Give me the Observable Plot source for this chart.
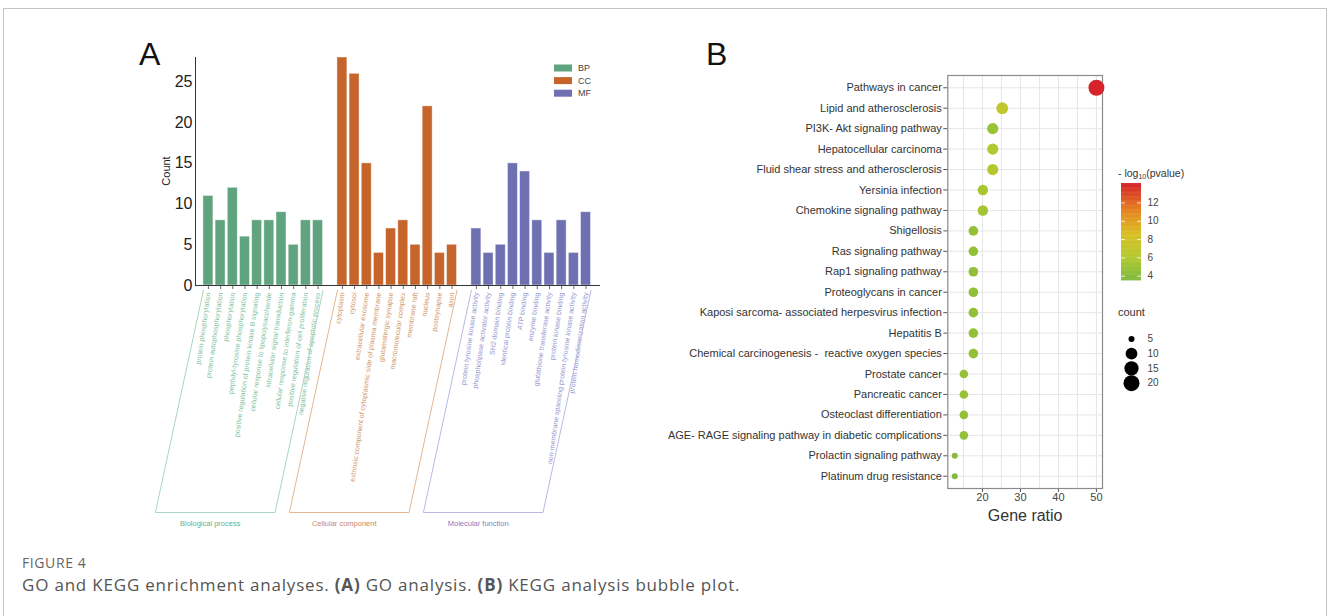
<!DOCTYPE html>
<html><head><meta charset="utf-8">
<script src="https://cdn.jsdelivr.net/npm/d3@7"></script>
<script src="https://cdn.jsdelivr.net/npm/@observablehq/plot@0.6"></script>
<style>
html,body{margin:0;padding:0;background:#fff;}
#fig{position:relative;width:1328px;height:616px;overflow:hidden;background:#fff;font-family:"Liberation Sans",Arial,sans-serif;}
.abs{position:absolute;}
#frame{position:absolute;left:3px;top:8px;width:1324px;height:700px;border:1.5px solid #c4c4c4;box-sizing:border-box;pointer-events:none;z-index:10;}
#overlay{position:absolute;left:0;top:0;z-index:5;pointer-events:none;}
</style></head>
<body>
<div id="fig">
  <div id="panelA" class="abs" style="left:0;top:0"></div>
  <div id="panelB" class="abs" style="left:660px;top:0"></div>
  <div id="cbar" class="abs" style="left:1121px;top:178.3px"></div>
  <div id="sizeLeg" class="abs" style="left:1121px;top:321px"></div>
  <svg id="overlay" width="1328" height="616"></svg>
  <div id="frame"></div>
</div>
<script>
// ---------------- DATA ----------------
const bpTerms = ["protein phosphorylation","protein autophosphorylation","phosphorylation","peptidyl-tyrosine phosphorylation","positive regulation of protein kinase B signaling","cellular response to lipopolysaccharide","intracellular signal transduction","cellular response to interferon-gamma","positive regulation of cell proliferation","negative regulation of apoptotic process"];
const bpCounts = [11,8,12,6,8,8,9,5,8,8];
const ccTerms = ["cytoplasm","cytosol","extracellular exosome","extrinsic component of cytoplasmic side of plasma membrane","glutamatergic synapse","macromolecular complex","membrane raft","nucleus","postsynapse","axon"];
const ccCounts = [28,26,15,4,7,8,5,22,4,5];
const mfTerms = ["protein tyrosine kinase activity","phospholipase activator activity","SH2 domain binding","identical protein binding","ATP binding","enzyme binding","glutathione transferase activity","protein kinase binding","non-membrane spanning protein tyrosine kinase activity","protein homodimerization activity"];
const mfCounts = [7,4,5,15,14,8,4,8,4,9];
const goGroups = ["BP","CC","MF"];
const goGroupNames = ["Biological process","Cellular component","Molecular function"];
const countTicksA = [0,5,10,15,20,25];

const keggPathways = ["Pathways in cancer","Lipid and atherosclerosis","PI3K- Akt signaling pathway","Hepatocellular carcinoma","Fluid shear stress and atherosclerosis","Yersinia infection","Chemokine signaling pathway","Shigellosis","Ras signaling pathway","Rap1 signaling pathway","Proteoglycans in cancer","Kaposi sarcoma- associated herpesvirus infection","Hepatitis B","Chemical carcinogenesis - \u00a0reactive oxygen species","Prostate cancer","Pancreatic cancer","Osteoclast differentiation","AGE- RAGE signaling pathway in diabetic complications","Prolactin signaling pathway","Platinum drug resistance"];
const keggRatio = [50,25.2,22.7,22.7,22.7,20.1,20.1,17.6,17.6,17.6,17.6,17.6,17.6,17.6,15.1,15.1,15.1,15.1,12.7,12.7];
const keggCount = [20,10,9,9,9,8,8,7,7,7,7,7,7,7,6,6,6,6,5,5];
const keggLogP = [14.0,6.9,4.9,6.0,6.3,5.6,5.3,4.6,4.6,4.5,4.5,4.5,4.6,4.6,4.8,4.8,4.6,4.6,4.0,3.9];
const ratioTicks = [20,30,40,50];
const ratioGrid = [15,20,25,30,35,40,45,50];
const colorTicks = [4,6,8,10,12];
const countTicksB = [5,10,15,20];

// ---------------- STYLE ----------------
const goColors = ["#5fa47f","#c6652b","#6e70b2"];
const goTextColors = ["#82bf9f","#d09669","#9596cf"];
const goLineColors = ["#a9d5c1","#e2b793","#babae2"];
const goLabelColors = ["#6aae8a","#c98a5c","#7f80c0"];
const fontFam = "'Liberation Sans', Arial, sans-serif";

// ---------------- PANEL A ----------------
const goData = [];
[[bpTerms,bpCounts],[ccTerms,ccCounts],[mfTerms,mfCounts]].forEach(([terms,counts],g)=>{
  terms.forEach((t,i)=>goData.push({group:g, term:t, count:counts[i], slot:g*(terms.length+1)+i}));
});
const BW = 0.82, SLANT = -3.94, YTOP = -0.6;
const xDomA = [-0.65, 32.6];
const yDomA = [-27.88, 28];
const brackets = goGroups.map((_,g)=>{
  const rows = goData.filter(d=>d.group===g);
  return {g, s:d3.min(rows,d=>d.slot), e:d3.max(rows,d=>d.slot)+BW};
});
const bracketPts = brackets.flatMap(b=>[
  {g:b.g,x:b.s,y:YTOP},{g:b.g,x:b.s+SLANT,y:yDomA[0]},
  {g:b.g,x:b.e+SLANT,y:yDomA[0]},{g:b.g,x:b.e,y:YTOP}]);

const chartA = Plot.plot({
  width:660, height:540,
  marginLeft:195, marginRight:60, marginTop:57, marginBottom:28,
  x:{domain:xDomA, axis:null},
  y:{domain:yDomA, axis:null},
  color:{type:"identity"},
  style:{background:"transparent", fontFamily:fontFam, overflow:"visible"},
  marks:[
    Plot.rect(goData,{x1:"slot", x2:d=>d.slot+BW, y1:0, y2:"count", fill:d=>goColors[d.group], stroke:"#ffffff", strokeOpacity:0.55, strokeWidth:0.8}),
    Plot.ruleX([xDomA[0]],{y1:0, y2:yDomA[1], stroke:"#333", strokeWidth:1}),
    Plot.ruleY([0],{x1:xDomA[0], x2:xDomA[1], stroke:"#333", strokeWidth:1}),
    Plot.text(countTicksA,{x:xDomA[0], y:d=>d, text:d=>String(d), textAnchor:"end", dx:-3, fontSize:16, fill:"#222"}),
    Plot.ruleX(goData,{x:d=>d.slot+BW/2, y1:0, y2:-0.5, stroke:"#444", strokeWidth:0.8}),
    Plot.text(goData,{x:d=>d.slot+BW/2, y:0, text:"term", rotate:-82, textAnchor:"end", dy:7, fontSize:7, fill:d=>goTextColors[d.group]}),
    Plot.line(bracketPts,{x:"x", y:"y", z:"g", stroke:d=>goLineColors[d.g], strokeWidth:1}),
    Plot.text(brackets,{x:b=>(b.s+b.e)/2+SLANT, y:yDomA[0], dy:11, dx:-5, text:b=>goGroupNames[b.g], fontSize:7.5, fill:b=>goLabelColors[b.g]})
  ]
});
document.getElementById("panelA").appendChild(chartA);

// ---------------- PANEL B ----------------
const kegg = keggPathways.map((p,i)=>({pathway:p, ratio:keggRatio[i], count:keggCount[i], logp:keggLogP[i]}));
const colorExtent = [3.49, 14.12];
const colorOpts = {type:"linear", domain:[3.49,6,8.5,11,14.12], range:["#7cb83e","#b2c92f","#d8c024","#e5871f","#d6202a"]};
const rOpts = {type:"sqrt", domain:[0,15], range:[3,8], transform:v=>v-5};

const chartB = Plot.plot({
  width:460, height:540,
  marginLeft:287.3, marginRight:18, marginTop:75, marginBottom:52,
  x:{domain:[10.87,51.6]},
  y:{type:"point", domain:keggPathways, padding:0.6, round:false},
  r:rOpts,
  color:colorOpts,
  style:{background:"transparent", fontFamily:fontFam, fontSize:"11px", overflow:"visible"},
  marks:[
    Plot.gridX(ratioGrid,{stroke:"#e6e6e6", strokeOpacity:1, strokeWidth:1}),
    Plot.gridY(keggPathways,{stroke:"#e6e6e6", strokeOpacity:1, strokeWidth:1}),
    Plot.axisY({tickSize:4, tickPadding:2, fontSize:11, fill:"#333", stroke:"#555", label:null}),
    Plot.axisX(ratioTicks,{tickSize:4, tickPadding:1, fontSize:11, fill:"#444", stroke:"#555", label:null}),
    Plot.frame({stroke:"#8a8a8a", strokeWidth:1.2}),
    Plot.dot(kegg,{x:"ratio", y:"pathway", r:"count", fill:"logp"}),
    Plot.text(["Gene ratio"],{frameAnchor:"bottom", lineAnchor:"middle", dy:27, fontSize:16, fill:"#333"})
  ]
});
document.getElementById("panelB").appendChild(chartB);

// colour bar legend
const rampStep = (colorExtent[1]-colorExtent[0])/120;
const ramp = d3.range(colorExtent[0], colorExtent[1]-rampStep/2, rampStep);
const cbar = Plot.plot({
  width:60, height:110, marginLeft:0, marginRight:40, marginTop:5, marginBottom:7.6,
  x:{domain:[0,1], axis:null}, y:{domain:colorExtent, axis:null},
  color:colorOpts,
  style:{background:"transparent", fontFamily:fontFam, overflow:"visible"},
  marks:[
    Plot.rect(ramp,{x1:0, x2:1, y1:d=>d, y2:d=>Math.min(d+rampStep*1.6, colorExtent[1]), fill:d=>d+rampStep/2}),
    Plot.ruleY(colorTicks,{x1:0, x2:0.2, stroke:"white", strokeWidth:0.8}),
    Plot.ruleY(colorTicks,{x1:0.8, x2:1, stroke:"white", strokeWidth:0.8}),
    Plot.text(colorTicks,{x:1, y:d=>d, dx:6, textAnchor:"start", fontSize:10, fill:"#444"})
  ]
});
document.getElementById("cbar").appendChild(cbar);

// size legend
const sizeLeg = Plot.plot({
  width:60, height:80, marginLeft:10, marginRight:40, marginTop:0, marginBottom:0,
  x:{domain:[0,1], axis:null},
  y:{type:"point", domain:countTicksB, range:[10,69], axis:null, round:false},
  r:rOpts,
  style:{background:"transparent", fontFamily:fontFam, overflow:"visible"},
  marks:[
    Plot.dot(countTicksB,{x:0, y:d=>d, r:d=>d, fill:"#000"}),
    Plot.text(countTicksB,{x:0, y:d=>d, text:d=>String(d), dx:16, textAnchor:"start", fontSize:10, fill:"#444"})
  ]
});
document.getElementById("sizeLeg").appendChild(sizeLeg);

// ---------------- OVERLAY TEXT ----------------
const ov = d3.select("#overlay");
ov.append("text").attr("x",139).attr("y",65).attr("font-family",fontFam).attr("font-size",32).attr("fill","#111").text("A");
ov.append("text").attr("x",706).attr("y",65).attr("font-family",fontFam).attr("font-size",32).attr("fill","#111").text("B");
ov.append("text").attr("transform","translate(166,171) rotate(-90)").attr("text-anchor","middle").attr("dominant-baseline","central")
  .attr("font-family",fontFam).attr("font-size",11).attr("fill","#222").text("Count");
goGroups.forEach((g,i)=>{
  const cy = 68 + i*12.6;
  ov.append("rect").attr("x",554).attr("y",cy-3.5).attr("width",18).attr("height",7).attr("fill",goColors[i]);
  ov.append("text").attr("x",578).attr("y",cy).attr("dominant-baseline","central").attr("font-family",fontFam).attr("font-size",9).attr("fill","#444").text(g);
});
const lt = ov.append("text").attr("x",1118).attr("y",173).attr("dominant-baseline","central").attr("font-family",fontFam).attr("font-size",10.5).attr("fill","#333");
lt.append("tspan").text("- log");
lt.append("tspan").attr("font-size",7).attr("dy",3).text("10");
lt.append("tspan").attr("dy",-3).text("(pvalue)");
ov.append("text").attr("x",1118).attr("y",312).attr("dominant-baseline","central").attr("font-family",fontFam).attr("font-size",11).attr("fill","#333").text("count");

const cap = ov.append("g").attr("font-family","'Open Sans', sans-serif").attr("fill","#555");
cap.append("text").attr("x",22).attr("y",568).attr("font-size",14).attr("letter-spacing",0.6).attr("fill","#666").text("FIGURE 4");
const c2 = cap.append("text").attr("x",22).attr("y",591).attr("font-size",17).attr("letter-spacing",0.8).attr("fill","#555");
c2.append("tspan").text("GO and KEGG enrichment analyses. ");
c2.append("tspan").attr("font-weight","bold").text("(A)");
c2.append("tspan").text(" GO analysis. ");
c2.append("tspan").attr("font-weight","bold").text("(B)");
c2.append("tspan").text(" KEGG analysis bubble plot.");
</script>
</body></html>
